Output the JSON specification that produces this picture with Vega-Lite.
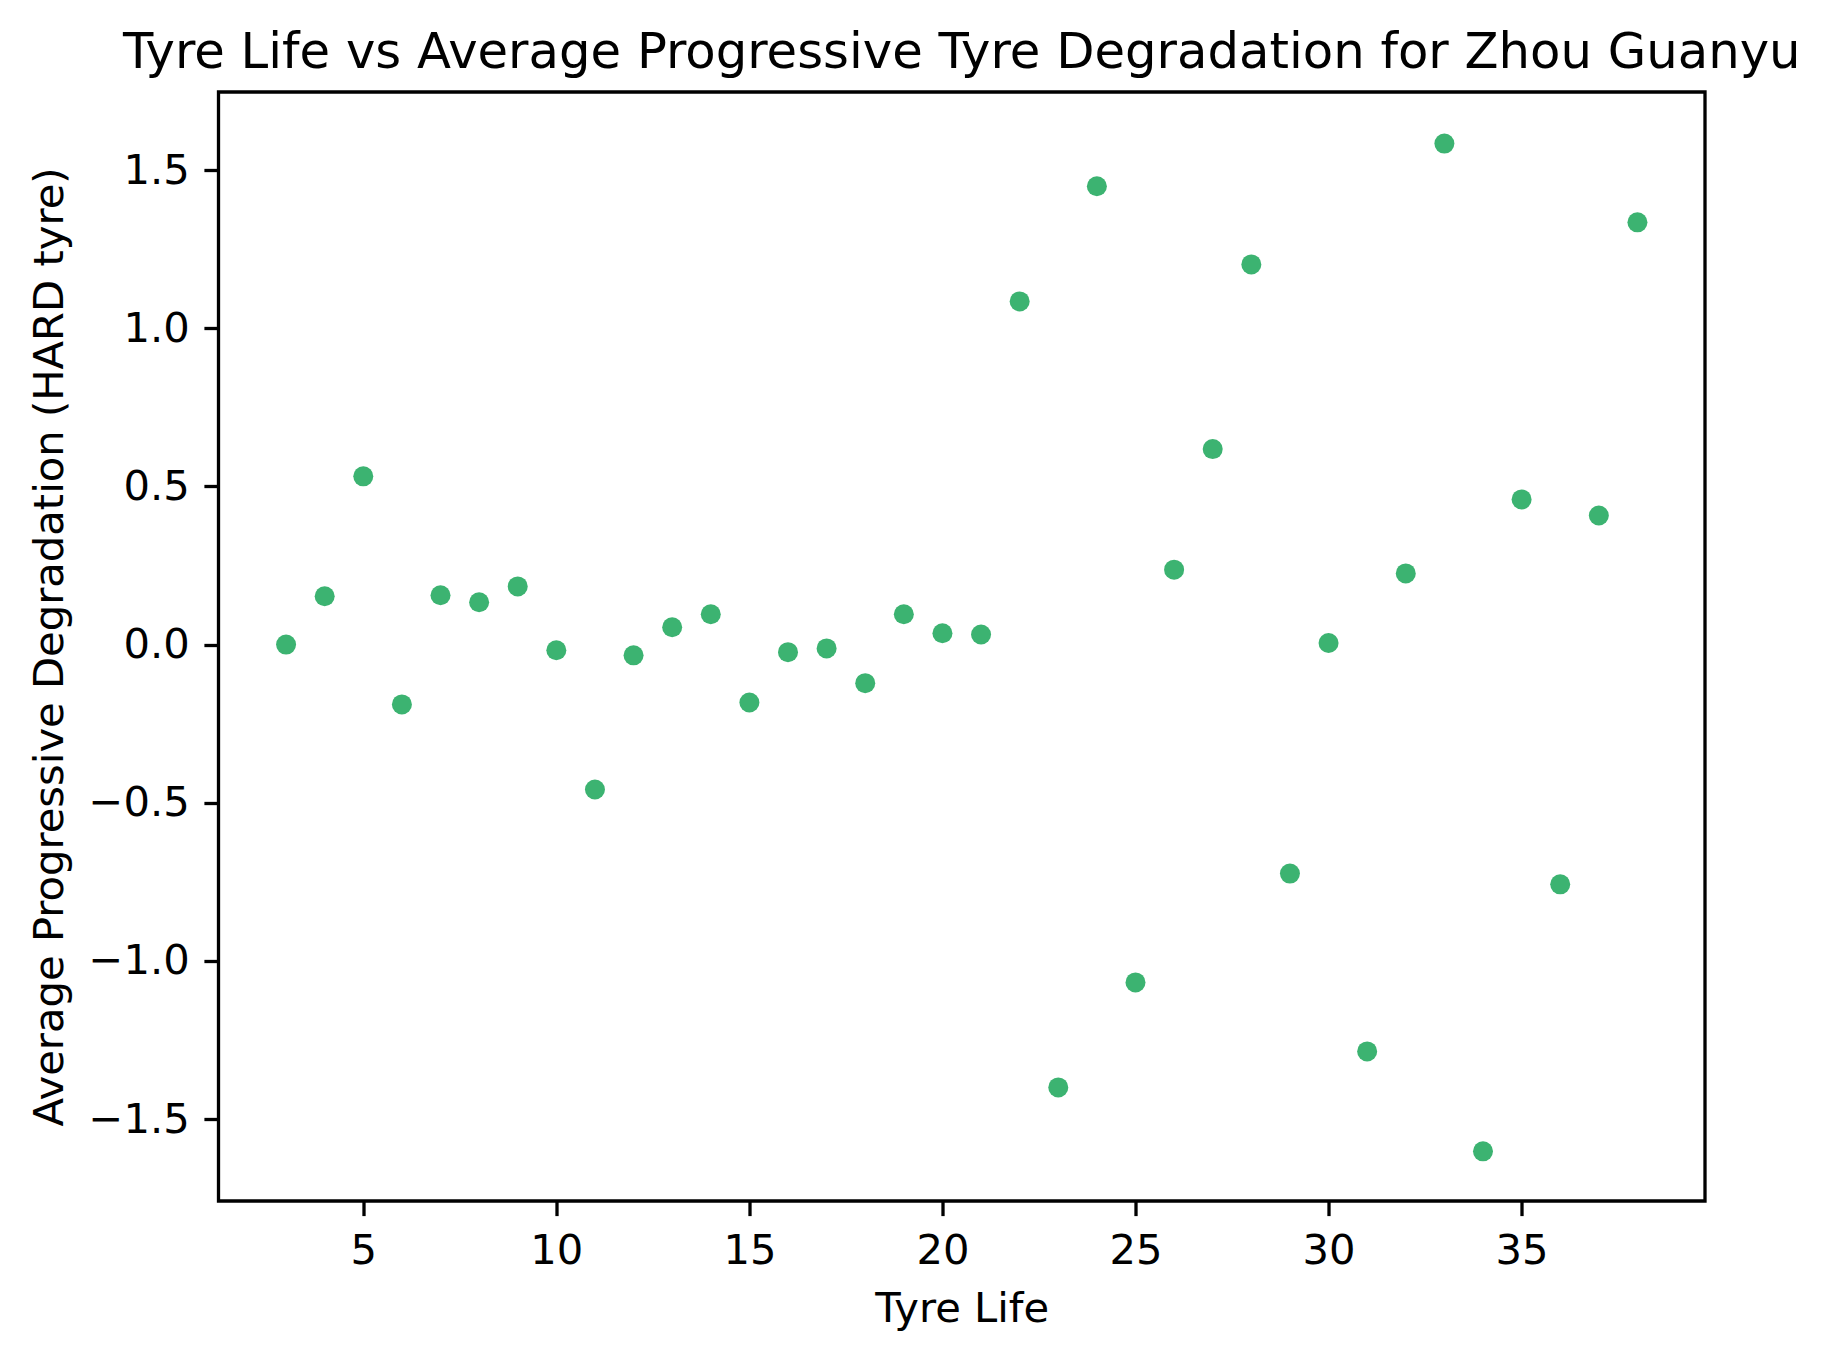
{
  "$schema": "https://vega.github.io/schema/vega-lite/v6.json",
  "autosize": {"type": "none"},
  "padding": {"left": 218.5, "top": 92, "right": 130, "bottom": 156},
  "width": 1486.5,
  "height": 1109,
  "background": "white",
  "title": {
    "text": "Tyre Life vs Average Progressive Tyre Degradation for Zhou Guanyu",
    "font": "DejaVu Sans",
    "fontSize": 49.7,
    "fontWeight": "normal",
    "color": "black",
    "offset": 13,
    "anchor": "middle"
  },
  "config": {
    "view": {"stroke": "black", "strokeWidth": 3.3},
    "axis": {
      "grid": false,
      "domain": false,
      "tickColor": "black",
      "tickWidth": 3.3,
      "tickSize": 14.6,
      "labelFont": "DejaVu Sans",
      "labelFontSize": 41.7,
      "labelColor": "black",
      "labelPadding": 14.6,
      "titleFont": "DejaVu Sans",
      "titleFontSize": 41.7,
      "titleFontWeight": "normal",
      "titleColor": "black"
    }
  },
  "data": {
    "values": [
      {"tyre_life": 3, "degradation": 0.0},
      {"tyre_life": 4, "degradation": 0.153},
      {"tyre_life": 5, "degradation": 0.532},
      {"tyre_life": 6, "degradation": -0.189},
      {"tyre_life": 7, "degradation": 0.156},
      {"tyre_life": 8, "degradation": 0.134},
      {"tyre_life": 9, "degradation": 0.184},
      {"tyre_life": 10, "degradation": -0.018},
      {"tyre_life": 11, "degradation": -0.458},
      {"tyre_life": 12, "degradation": -0.034},
      {"tyre_life": 13, "degradation": 0.055},
      {"tyre_life": 14, "degradation": 0.096},
      {"tyre_life": 15, "degradation": -0.183},
      {"tyre_life": 16, "degradation": -0.024},
      {"tyre_life": 17, "degradation": -0.012},
      {"tyre_life": 18, "degradation": -0.122},
      {"tyre_life": 19, "degradation": 0.096},
      {"tyre_life": 20, "degradation": 0.036},
      {"tyre_life": 21, "degradation": 0.032},
      {"tyre_life": 22, "degradation": 1.085},
      {"tyre_life": 23, "degradation": -1.4},
      {"tyre_life": 24, "degradation": 1.449},
      {"tyre_life": 25, "degradation": -1.068},
      {"tyre_life": 26, "degradation": 0.237},
      {"tyre_life": 27, "degradation": 0.618},
      {"tyre_life": 28, "degradation": 1.202},
      {"tyre_life": 29, "degradation": -0.724},
      {"tyre_life": 30, "degradation": 0.005},
      {"tyre_life": 31, "degradation": -1.286},
      {"tyre_life": 32, "degradation": 0.225},
      {"tyre_life": 33, "degradation": 1.584},
      {"tyre_life": 34, "degradation": -1.602},
      {"tyre_life": 35, "degradation": 0.459},
      {"tyre_life": 36, "degradation": -0.758},
      {"tyre_life": 37, "degradation": 0.408},
      {"tyre_life": 38, "degradation": 1.335}
    ]
  },
  "mark": {"type": "point", "filled": true, "shape": "circle", "size": 400, "color": "#3CB371", "opacity": 1},
  "encoding": {
    "x": {
      "field": "tyre_life",
      "type": "quantitative",
      "title": "Tyre Life",
      "scale": {"domain": [1.25, 39.75], "nice": false, "zero": false},
      "axis": {"values": [5, 10, 15, 20, 25, 30, 35], "format": "d", "titlePadding": 16.7}
    },
    "y": {
      "field": "degradation",
      "type": "quantitative",
      "title": "Average Progressive Degradation (HARD tyre)",
      "scale": {"domain": [-1.759, 1.747], "nice": false, "zero": false},
      "axis": {"values": [-1.5, -1.0, -0.5, 0.0, 0.5, 1.0, 1.5], "format": ".1f", "titlePadding": 16.7}
    }
  }
}
